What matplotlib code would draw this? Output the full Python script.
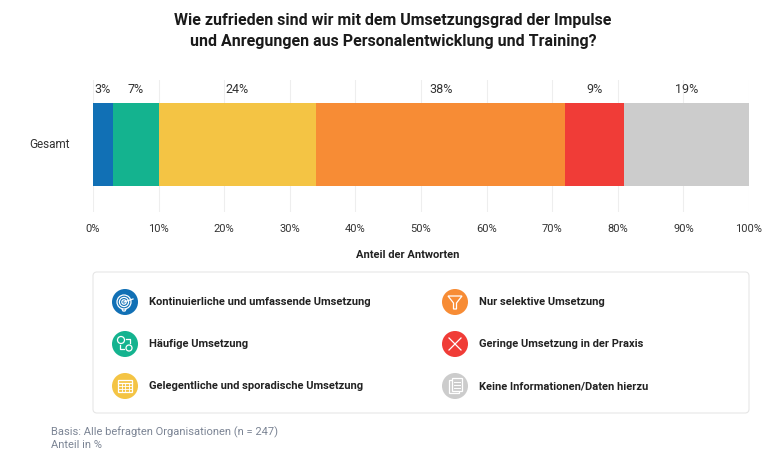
import matplotlib
matplotlib.use("Agg")
import matplotlib.pyplot as plt
from matplotlib.patches import Circle, FancyBboxPatch, Rectangle, Polygon
import numpy as np

plt.rcParams['font.family'] = ['Roboto', 'DejaVu Sans']

title = "Wie zufrieden sind wir mit dem Umsetzungsgrad der Impulse\nund Anregungen aus Personalentwicklung und Training?"
category = "Gesamt"
labels = ["Kontinuierliche und umfassende Umsetzung", "Häufige Umsetzung",
          "Gelegentliche und sporadische Umsetzung", "Nur selektive Umsetzung",
          "Geringe Umsetzung in der Praxis", "Keine Informationen/Daten hierzu"]
values = [3, 7, 24, 38, 9, 19]
colors = ["#1170b5", "#14b38f", "#f4c444", "#f78c35", "#f03c37", "#cccccc"]
xticks = [0, 10, 20, 30, 40, 50, 60, 70, 80, 90, 100]
xlabel = "Anteil der Antworten"
footnote = ["Basis: Alle befragten Organisationen (n = 247)", "Anteil in %"]

W, H = 780, 470
fig = plt.figure(figsize=(W / 100, H / 100), dpi=100)
fig.patch.set_facecolor("white")

# main axes (pixel-derived layout)
ax_l, ax_r, ax_t, ax_b = 93, 749, 80, 212
ax = fig.add_axes([ax_l / W, 1 - ax_b / H, (ax_r - ax_l) / W, (ax_b - ax_t) / H])
ax.set_xlim(0, 100)
ax.set_ylim(-0.8, 0.8)
for s in ax.spines.values():
    s.set_visible(False)
ax.set_xticks(xticks)
ax.set_xticklabels([f"{t}%" for t in xticks], fontsize=8, color="#333333")
ax.tick_params(axis="x", length=0, pad=9)
ax.set_yticks([0.04])
ax.set_yticklabels([category], fontsize=8.5, color="#333333")
ax.tick_params(axis="y", length=0, pad=16.5)
ax.grid(axis="x", color="#eeeeee", linewidth=0.8)
ax.set_axisbelow(True)

left = 0
for v, c in zip(values, colors):
    ax.barh(0.02, v, left=left, height=1.0, color=c, edgecolor="none")
    ax.text(left + v / 2, 0.68, f"{v}%", ha="center", va="center", fontsize=9, color="#333333")
    left += v

ax.set_xlabel(xlabel, fontsize=8, fontweight="bold", color="#222222")
ax.xaxis.set_label_coords((408 - ax_l) / (ax_r - ax_l), -0.285)

fig.text(393 / W, 1 - 31 / H, title, ha="center", va="center", fontsize=11.5,
         fontweight="bold", color="#1a1a1a", linespacing=1.45)

# overlay axes in pixel coordinates for legend
ov = fig.add_axes([0, 0, 1, 1])
ov.set_xlim(0, W)
ov.set_ylim(H, 0)
ov.axis("off")
ov.patch.set_alpha(0)

box = FancyBboxPatch((93, 272), 656, 141, boxstyle="round,pad=0,rounding_size=4",
                     facecolor="white", edgecolor="#e6e6e6", linewidth=0.8)
ov.add_patch(box)

cols_x = [125, 455]
rows_y = [302, 344, 386]
r = 13
wc = "white"
lw = 0.9


def icon(i, cx, cy):
    if i == 0:  # target
        for rr in (7, 4.6, 2.2):
            ov.add_patch(Circle((cx - 1, cy), rr, fill=False, edgecolor=wc, lw=lw))
        ov.plot([cx - 1, cx + 8], [cy, cy - 3], color=wc, lw=lw)
        ov.plot([cx - 3, cx - 2, cx, cx + 1], [cy + 7, cy + 9, cy + 9, cy + 7], color=wc, lw=lw)
    elif i == 1:  # clock + gear
        ov.add_patch(Circle((cx - 4, cy - 4), 3.5, fill=False, edgecolor=wc, lw=lw))
        ov.add_patch(Circle((cx + 4, cy + 4), 3, fill=False, edgecolor=wc, lw=lw))
        ov.plot([cx + 1, cx + 5, cx + 5], [cy - 5, cy - 5, cy - 1], color=wc, lw=lw)
        ov.plot([cx - 5, cx - 5, cx - 1], [cy + 1, cy + 5, cy + 5], color=wc, lw=lw)
    elif i == 2:  # calendar
        ov.add_patch(Rectangle((cx - 7, cy - 6), 14, 12, fill=False, edgecolor=wc, lw=lw))
        ov.plot([cx - 7, cx + 7], [cy - 3, cy - 3], color=wc, lw=lw)
        for gx in (-3.5, 0, 3.5):
            ov.plot([cx + gx, cx + gx], [cy - 3, cy + 6], color=wc, lw=0.6)
        for gy in (0, 3):
            ov.plot([cx - 7, cx + 7], [cy + gy, cy + gy], color=wc, lw=0.6)
    elif i == 3:  # funnel
        ov.add_patch(Polygon([[cx - 7, cy - 6], [cx + 7, cy - 6], [cx + 1.5, cy + 1],
                              [cx + 1.5, cy + 7], [cx - 1.5, cy + 7], [cx - 1.5, cy + 1]],
                             closed=True, fill=False, edgecolor=wc, lw=lw))
    elif i == 4:  # X
        ov.plot([cx - 6, cx + 6], [cy - 6, cy + 6], color=wc, lw=lw)
        ov.plot([cx - 6, cx + 6], [cy + 6, cy - 6], color=wc, lw=lw)
    else:  # documents
        ov.add_patch(Rectangle((cx - 6, cy - 6), 10, 13, fill=False, edgecolor=wc, lw=lw))
        ov.add_patch(Rectangle((cx - 3, cy - 8), 10, 13, facecolor="#cccccc", edgecolor=wc, lw=lw))
        for gy in (-4, -1, 2):
            ov.plot([cx - 1, cx + 5], [cy + gy, cy + gy], color=wc, lw=0.7)


for i, (lab, c) in enumerate(zip(labels, colors)):
    cx = cols_x[i // 3]
    cy = rows_y[i % 3]
    ov.add_patch(Circle((cx, cy), r, facecolor=c, edgecolor="none"))
    icon(i, cx, cy)
    ov.text(cx + 24, cy, lab, ha="left", va="center", fontsize=8, fontweight="bold", color="#222222")

ov.text(51, 432, footnote[0], ha="left", va="center", fontsize=8, color="#7b8494")
ov.text(51, 445, footnote[1], ha="left", va="center", fontsize=8, color="#7b8494")

fig.savefig("out.png", dpi=100, facecolor="white")
